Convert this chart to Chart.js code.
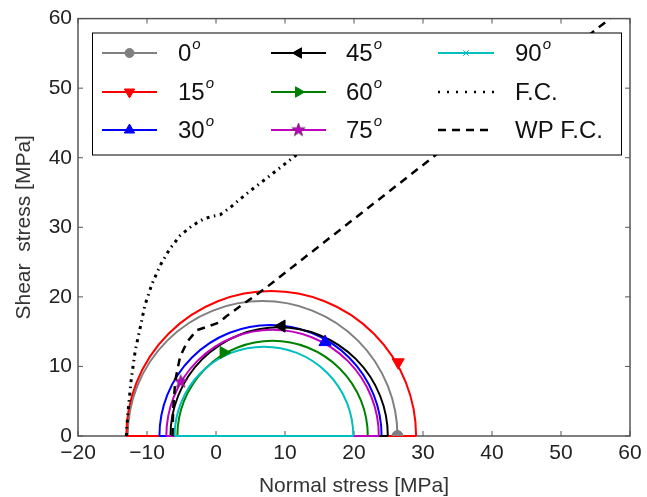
<!DOCTYPE html>
<html>
<head>
<meta charset="utf-8">
<script src="https://cdn.jsdelivr.net/npm/chart.js@4.4.0/dist/chart.umd.min.js"></script>
<style>
  html, body { margin: 0; padding: 0; background: #fff; }
  #wrap { width: 647px; height: 497px; }
</style>
</head>
<body>
<div id="wrap"><canvas id="mohr"></canvas></div>
<script>
// Mohr circles, one per loading angle (degrees)
const angles = ['0', '15', '30', '45', '60', '75', '90'];
const sigma3 = [-12.8, -13.0, -8.2, -6.6, -5.6, -7.2, -6.0];   // left end of each circle [MPa]
const sigma1 = [26.3, 29.0, 24.0, 24.9, 22.0, 23.6, 19.9];     // right end of each circle [MPa]
// marker position drawn on each circle
const markX = [26.3, 26.4, 15.8, 9.5, 1.1, -5.1, null];
const markY = [0, 10.6, 13.5, 15.8, 12.0, 7.8, null];

const colors = ['#808080', '#ff0000', '#0000ff', '#000000', '#008000', '#bf00bf', '#00bfbf'];

// failure criterion
const fcX = [-13.0, -12.8, -12.3, -11.7, -11.0, -10.3, -9.3, -8.1, -6.7, -5.2, -3.5, -1.8, -0.5, 0.6, 2.0, 4.4, 8.3, 11.4, 20.0];
const fcY = [0, 3.0, 8.0, 12.3, 15.5, 18.8, 21.8, 24.5, 26.9, 28.8, 30.2, 31.2, 31.6, 31.8, 32.8, 34.8, 37.8, 40.2, 46.8];
// weak plane failure criterion
const wpX = [-6.3, -6.2, -5.9, -5.2, -4.2, -2.8, -1.0, 0.4, 1.5, 4.0, 7.1, 31.6, 57.1];
const wpY = [0, 4.0, 8.0, 11.4, 13.5, 15.2, 15.8, 16.3, 17.2, 19.0, 21.2, 40.2, 60.0];

const xTicks = [-20, -10, 0, 10, 20, 30, 40, 50, 60];
const yTicks = [0, 10, 20, 30, 40, 50, 60];

// filled star for the 75 deg marker (chart.js 'star' is only strokes)
function makeStar(color) {
  const c = document.createElement('canvas');
  c.width = 15; c.height = 15;
  const g = c.getContext('2d');
  g.beginPath();
  for (let i = 0; i < 10; i++) {
    const r = i % 2 === 0 ? 7 : 2.8;
    const a = -Math.PI / 2 + i * Math.PI / 5;
    g.lineTo(7.5 + r * Math.cos(a), 7.5 + r * Math.sin(a));
  }
  g.closePath();
  g.fillStyle = color;
  g.fill();
  g.strokeStyle = '#5a2a5a';
  g.lineWidth = 0.8;
  g.stroke();
  return c;
}

const markerStyle = ['circle', 'triangle', 'triangle', 'triangle', 'triangle', makeStar('#bf00bf'), 'crossRot'];
const markerRot = [0, 180, 0, -90, 90, 0, 0];
const markerSize = [5.5, 7, 7, 7, 7, 7, 5];

// lower order = drawn later (on top)
const datasets = [];
angles.forEach((a, i) => {
  // upper half of the circle: bubble centred on the axis, clipped by the plot area
  datasets.push({
    type: 'bubble',
    data: [{x: (sigma1[i] + sigma3[i]) / 2, y: 0}],
    mohrRight: sigma1[i],
    backgroundColor: 'rgba(0,0,0,0)',
    borderColor: colors[i],
    borderWidth: 2,
    clip: 0,
    order: 50 - 2 * i
  });
  // diameter along the normal stress axis
  datasets.push({
    type: 'line',
    data: [{x: sigma3[i], y: 0}, {x: sigma1[i], y: 0}],
    borderColor: colors[i],
    borderWidth: 2,
    pointRadius: 0,
    clip: {left: 0, right: 0, top: 0, bottom: 2},
    order: 49 - 2 * i
  });
  if (markX[i] !== null) {
    datasets.push({
      type: 'scatter',
      data: [{x: markX[i], y: markY[i]}],
      pointStyle: markerStyle[i],
      rotation: markerRot[i],
      radius: markerSize[i],
      backgroundColor: colors[i],
      borderColor: colors[i],
      borderWidth: 1,
      clip: 0,
      order: 10 - i
    });
  }
});

datasets.push({
  type: 'line',
  data: fcX.map((x, i) => ({x: x, y: fcY[i]})),
  borderColor: '#000',
  borderWidth: 3,
  borderDash: [3, 4.5, 1.5, 4.5],
  pointRadius: 0,
  order: 1
});
datasets.push({
  type: 'line',
  data: wpX.map((x, i) => ({x: x, y: wpY[i]})),
  borderColor: '#000',
  borderWidth: 2.5,
  borderDash: [8, 6],
  pointRadius: 0,
  order: 0
});

const FONT = "'Liberation Sans', Arial, sans-serif";

// bubble radius is in pixels: take it from the x scale once it is laid out
// (picked up by the parse of the next update)
const radiusPlugin = {
  id: 'mohrRadius',
  afterLayout(chart) {
    const xs = chart.scales.x;
    chart.data.datasets.forEach(ds => {
      if (ds.type !== 'bubble') return;
      const c = ds.data[0];
      c.r = Math.abs(xs.getPixelForValue(ds.mohrRight) - xs.getPixelForValue(c.x));
    });
  }
};

// box frame with inward ticks on all four sides (under the data, like the spines)
const framePlugin = {
  id: 'frame',
  beforeDatasetsDraw(chart) {
    const {ctx, chartArea: a, scales} = chart;
    ctx.save();
    ctx.strokeStyle = '#555';
    ctx.lineWidth = 1.5;
    ctx.strokeRect(a.left, a.top, a.right - a.left, a.bottom - a.top);
    ctx.lineWidth = 1;
    ctx.beginPath();
    xTicks.forEach(v => {
      const px = scales.x.getPixelForValue(v);
      ctx.moveTo(px, a.bottom); ctx.lineTo(px, a.bottom - 5);
      ctx.moveTo(px, a.top); ctx.lineTo(px, a.top + 5);
    });
    yTicks.forEach(v => {
      const py = scales.y.getPixelForValue(v);
      ctx.moveTo(a.left, py); ctx.lineTo(a.left + 5, py);
      ctx.moveTo(a.right, py); ctx.lineTo(a.right - 5, py);
    });
    ctx.stroke();
    ctx.restore();
  }
};

// matplotlib-like legend box drawn inside the axes, three columns
const legendPlugin = {
  id: 'boxLegend',
  afterDraw(chart) {
    const ctx = chart.ctx;
    const box = {x: 92.5, y: 33, w: 529, h: 122};
    const cols = [{x1: 102, x2: 157, tx: 178}, {x1: 271, x2: 326, tx: 346}, {x1: 438, x2: 494, tx: 515}];
    const rows = [53, 92, 130];
    const entries = angles.map((a, i) => ({
      main: a, sup: 'o', color: colors[i], dash: [], width: 2,
      marker: {pointStyle: markerStyle[i], rotation: markerRot[i], radius: markerSize[i] - 1, borderWidth: 1},
    }));
    entries.push({main: 'F.C.', sup: '', color: '#000', dash: [2, 7], width: 2.5, marker: null});
    entries.push({main: 'WP F.C.', sup: '', color: '#000', dash: [8, 6], width: 2.5, marker: null});

    ctx.save();
    ctx.fillStyle = '#fff';
    ctx.fillRect(box.x, box.y, box.w, box.h);
    ctx.strokeStyle = '#000';
    ctx.lineWidth = 1;
    ctx.strokeRect(box.x, box.y, box.w, box.h);

    entries.forEach((e, n) => {
      const col = cols[Math.floor(n / 3)];
      const y = rows[n % 3];
      ctx.save();
      ctx.strokeStyle = e.color;
      ctx.lineWidth = e.width;
      ctx.setLineDash(e.dash);
      ctx.beginPath();
      ctx.moveTo(col.x1, y);
      ctx.lineTo(col.x2, y);
      ctx.stroke();
      ctx.restore();
      if (e.marker) {
        ctx.save();
        ctx.fillStyle = e.color;
        ctx.strokeStyle = e.color;
        ctx.lineWidth = 1;
        Chart.helpers.drawPoint(ctx, e.marker, (col.x1 + col.x2) / 2, y);
        ctx.restore();
      }
      ctx.fillStyle = '#111';
      ctx.textBaseline = 'middle';
      ctx.textAlign = 'left';
      ctx.font = '24px ' + FONT;
      ctx.fillText(e.main, col.tx, y + 1);
      if (e.sup) {
        const w = ctx.measureText(e.main).width;
        ctx.font = 'italic 15px ' + FONT;
        ctx.fillText(e.sup, col.tx + w + 1, y - 8);
      }
    });
    ctx.restore();
  }
};

const chart = new Chart(document.getElementById('mohr'), {
  data: {datasets: datasets},
  options: {
    responsive: true,
    maintainAspectRatio: false,
    animation: false,
    events: [],
    layout: {padding: {left: 0, right: 17, top: 18, bottom: 0}, autoPadding: false},
    plugins: {legend: {display: false}, tooltip: {enabled: false}},
    scales: {
      x: {
        type: 'linear',
        min: -20, max: 60,
        afterBuildTicks: s => { s.ticks = xTicks.map(v => ({value: v})); },
        afterFit: s => { s.height = 61; },
        grid: {display: false, drawTicks: false},
        border: {display: false},
        ticks: {
          padding: 5,
          color: '#222',
          font: {family: FONT, size: 21},
          maxRotation: 0,
          callback: v => String(v).replace('-', '\u2212')
        },
        title: {
          display: true,
          text: 'Normal stress [MPa]',
          color: '#333',
          font: {family: FONT, size: 21, lineHeight: 1},
          padding: {top: 0, bottom: 0}
        }
      },
      y: {
        type: 'linear',
        min: 0, max: 60,
        afterBuildTicks: s => { s.ticks = yTicks.map(v => ({value: v})); },
        afterFit: s => { s.width = 78; },
        grid: {display: false, drawTicks: false},
        border: {display: false},
        ticks: {
          padding: 6,
          color: '#222',
          font: {family: FONT, size: 21}
        },
        title: {
          display: true,
          text: 'Shear  stress [MPa]',
          color: '#333',
          font: {family: FONT, size: 21, lineHeight: 1},
          padding: {top: 14, bottom: 0}
        }
      }
    }
  },
  plugins: [radiusPlugin, framePlugin, legendPlugin]
});
// second pass so the bubbles are parsed with their pixel radius
chart.update();
</script>
</body>
</html>
